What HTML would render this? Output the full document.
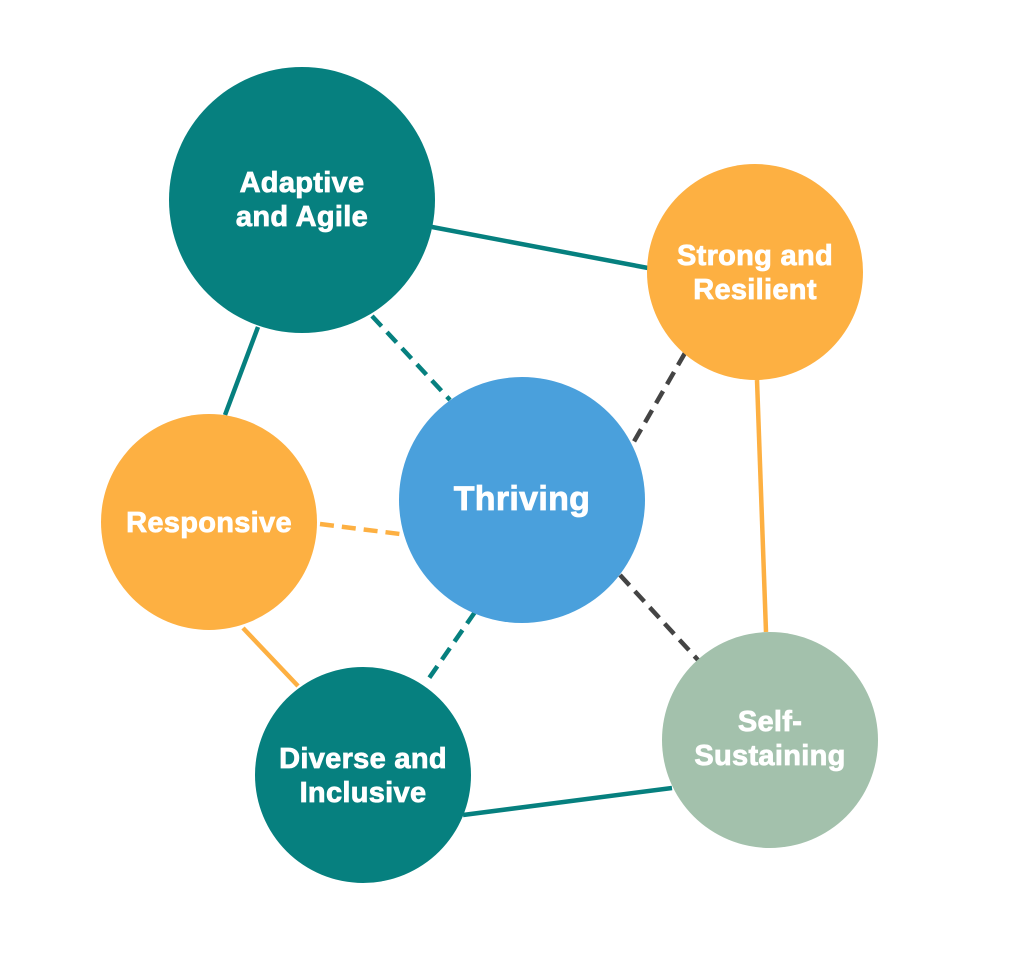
<!DOCTYPE html>
<html><head><style>html,body{margin:0;padding:0;background:#fff}</style></head><body>
<svg width="1024" height="966" viewBox="0 0 1024 966" xmlns="http://www.w3.org/2000/svg">
<g stroke-width="4.5" fill="none">
<line x1="432" y1="227" x2="648" y2="268" stroke="#06807f"/>
<line x1="258" y1="327" x2="225" y2="415" stroke="#06807f"/>
<line x1="372" y1="316" x2="450" y2="400" stroke="#06807f" stroke-dasharray="14,8"/>
<line x1="685" y1="353" x2="632" y2="445" stroke="#444" stroke-dasharray="14,8"/>
<line x1="757" y1="380" x2="766" y2="632" stroke="#fdb042"/>
<line x1="320" y1="524" x2="400" y2="534" stroke="#fdb042" stroke-dasharray="14,8"/>
<line x1="243" y1="628" x2="298" y2="686" stroke="#fdb042"/>
<line x1="475" y1="612" x2="425" y2="684" stroke="#06807f" stroke-dasharray="14,8"/>
<line x1="620" y1="575" x2="698" y2="660" stroke="#444" stroke-dasharray="14,8"/>
<line x1="463" y1="815" x2="672" y2="788" stroke="#06807f"/>
</g>
<circle cx="302" cy="200" r="133" fill="#06807f"/>
<circle cx="755" cy="272" r="108" fill="#fdb042"/>
<circle cx="209" cy="522" r="108" fill="#fdb042"/>
<circle cx="522" cy="500" r="123" fill="#4aa0dc"/>
<circle cx="363" cy="775" r="108" fill="#06807f"/>
<circle cx="770" cy="740" r="108" fill="#a3c1ac"/>
<g fill="#fff" stroke="#fff" stroke-width="0.8" font-family="Liberation Sans, sans-serif" font-weight="bold" font-size="29" text-anchor="middle" letter-spacing="0.3">
<text x="302" y="192">Adaptive</text><text x="302" y="226">and Agile</text>
<text x="755" y="265">Strong and</text><text x="755" y="299">Resilient</text>
<text x="209" y="532">Responsive</text>
<text x="522" y="510" font-size="34">Thriving</text>
<text x="363" y="768">Diverse and</text><text x="363" y="802">Inclusive</text>
<text x="770" y="731">Self-</text><text x="770" y="765">Sustaining</text>
</g>
</svg>
</body></html>
